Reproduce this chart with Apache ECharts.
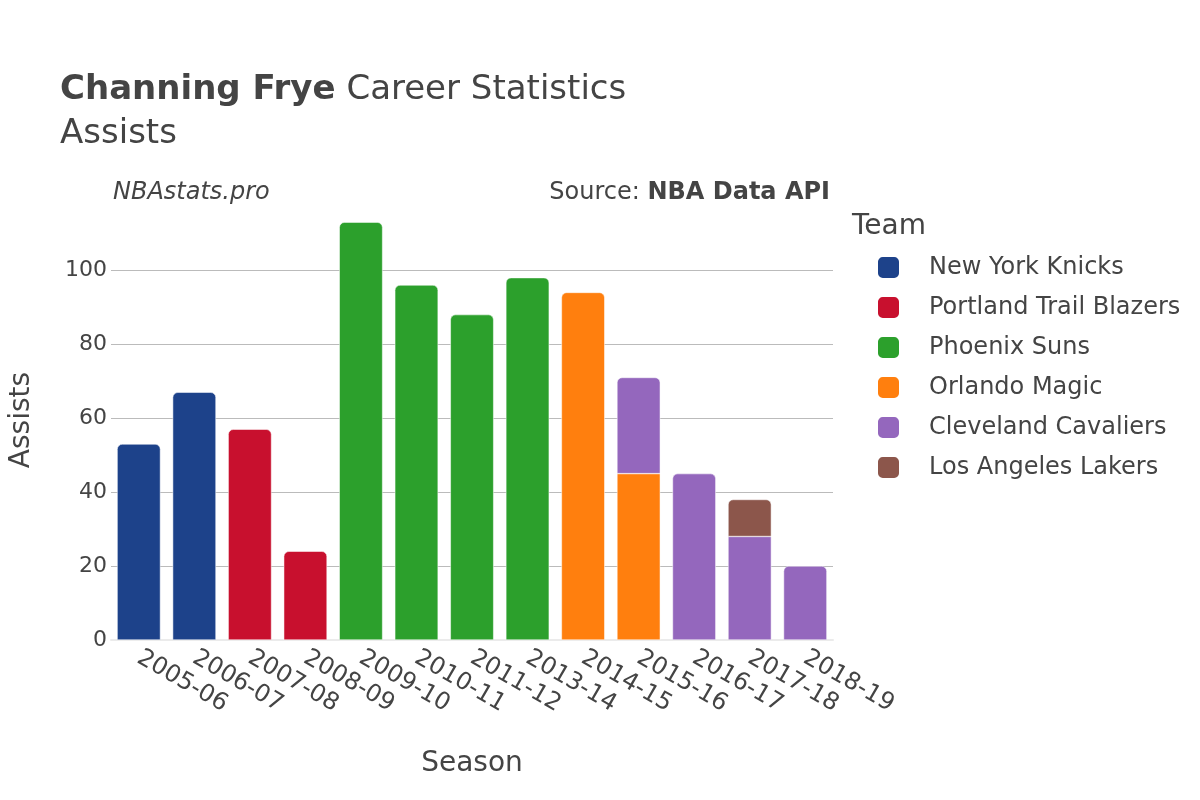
<!DOCTYPE html>
<html>
<head>
<meta charset="utf-8">
<script src="https://cdn.jsdelivr.net/npm/echarts@6/dist/echarts.min.js"></script>
<style>html,body{margin:0;padding:0;background:#fff}#c{width:1200px;height:800px}</style>
</head>
<body>
<div id="c"></div>
<script>
const seasons = ['2005-06','2006-07','2007-08','2008-09','2009-10','2010-11','2011-12','2013-14','2014-15','2015-16','2016-17','2017-18','2018-19'];
const teams = ['New York Knicks','Portland Trail Blazers','Phoenix Suns','Orlando Magic','Cleveland Cavaliers','Los Angeles Lakers'];
const colors = ['#1d428a','#c8102e','#2ca02c','#ff7f0e','#9467bd','#8c564b'];
const nyk = [53,67,null,null,null,null,null,null,null,null,null,null,null];
const por = [null,null,57,24,null,null,null,null,null,null,null,null,null];
const phx = [null,null,null,null,113,96,88,98,null,null,null,null,null];
const orl = [null,null,null,null,null,null,null,null,94,45,null,null,null];
const cle = [null,null,null,null,null,null,null,null,null,26,45,28,20];
const lal = [null,null,null,null,null,null,null,null,null,null,null,10,null];
const yTicks = [0,20,40,60,80,100];

const values = [nyk,por,phx,orl,cle,lal];
const FONT = 'DejaVu Sans';
const topIdx = seasons.map((s,i)=>{let t=-1; values.forEach((v,k)=>{if(v[i]!=null)t=k;}); return t;});
const series = teams.map((name,k)=>({
  name, type:'bar', stack:'total', barCategoryGap:'22%',
  itemStyle:{color:colors[k], borderColor:'#fff', borderWidth:0.5},
  data: values[k].map((v,i)=> v==null? null : {value:v, itemStyle:{borderRadius: topIdx[i]===k?[5,5,0,0]:0}})
}));

const chart = echarts.init(document.getElementById('c'));
chart.setOption({
  backgroundColor:'#fff',
  animation:false,
  textStyle:{fontFamily:FONT},
  grid:{left:107, right:367, top:200, bottom:160},
  xAxis:{type:'category', data:seasons,
    axisLine:{show:true, lineStyle:{color:'#ebebeb', width:2}}, axisTick:{show:false},
    axisLabel:{rotate:-30, fontSize:24, color:'#444', fontFamily:FONT, margin:16, interval:0},
    name:'Season', nameLocation:'middle', nameGap:110, nameTextStyle:{fontSize:28, color:'#444', fontFamily:FONT}},
  yAxis:{type:'value', min:0, max:119, interval:20,
    axisLabel:{fontSize:22, color:'#444', fontFamily:FONT, margin:4, customValues:yTicks},
    axisTick:{show:false}, axisLine:{show:false},
    splitLine:{showMaxLine:false, lineStyle:{color:'#bbb', width:1.2}},
    name:'Assists', nameLocation:'middle', nameGap:75, nameTextStyle:{fontSize:28, color:'#444', fontFamily:FONT}},
  legend:{orient:'vertical', left:871, top:250, itemWidth:23, itemHeight:23, itemGap:15, icon:'roundRect',
    textStyle:{fontSize:24, lineHeight:23, color:'#444', fontFamily:FONT, padding:[0,0,0,24]}, data:teams},
  title:[
    {text:'{b|Channing Frye} Career Statistics', left:55, top:68,
      textStyle:{fontSize:34, color:'#444', fontWeight:'normal', fontFamily:FONT, rich:{b:{fontSize:34, fontWeight:'bold', color:'#444', fontFamily:FONT}}}},
    {text:'Assists', left:55, top:112, textStyle:{fontSize:34, color:'#444', fontWeight:'normal', fontFamily:FONT}},
    {text:'NBAstats.pro', left:108, top:176, textStyle:{fontSize:24, color:'#444', fontStyle:'italic', fontWeight:'normal', fontFamily:FONT}},
    {text:'Source: {b|NBA Data API}', right:365, top:176,
      textStyle:{fontSize:24, color:'#444', fontWeight:'normal', fontFamily:FONT, rich:{b:{fontSize:24, fontWeight:'bold', color:'#444', fontFamily:FONT}}}},
    {text:'Team', left:847, top:208, textStyle:{fontSize:28, color:'#444', fontWeight:'normal', fontFamily:FONT}}
  ],
  series
});
</script>
</body>
</html>
